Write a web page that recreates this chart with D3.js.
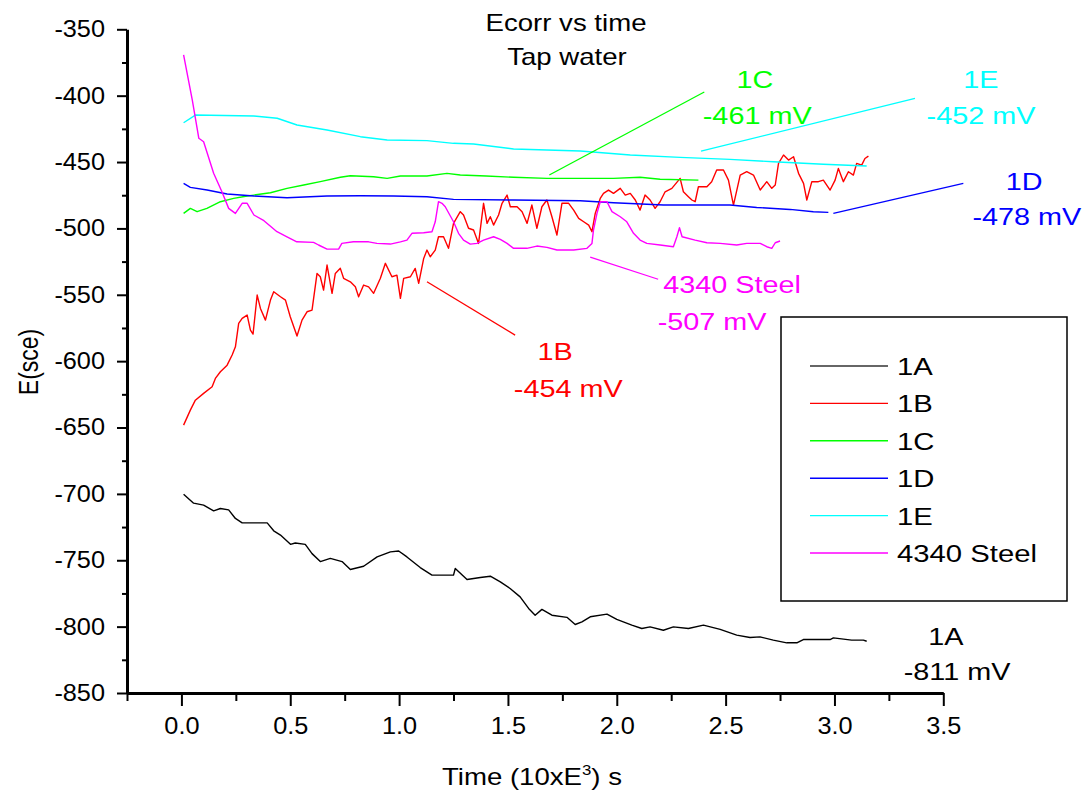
<!DOCTYPE html>
<html>
<head>
<meta charset="utf-8">
<script src="https://cdn.jsdelivr.net/npm/d3@7"></script>
<style>
  html, body { margin: 0; padding: 0; background: #fff; }
  svg { display: block; }
  text { font-family: "Liberation Sans", Arial, sans-serif; fill: #000; }
</style>
</head>
<body>
<svg id="chart" width="1091" height="799"></svg>
<script>
// Open-circuit potential (Ecorr) vs time in tap water, time in 10^3 s, E in mV vs SCE
const series1A = [[0.01,-700.2],[0.056,-707],[0.102,-708.5],[0.148,-712.8],[0.179,-711],[0.217,-712],[0.248,-718.5],[0.279,-721.8],[0.394,-721.8],[0.424,-727.8],[0.455,-731],[0.501,-738],[0.523,-737],[0.569,-738],[0.6,-745],[0.638,-751],[0.684,-748.6],[0.738,-751],[0.776,-757],[0.837,-754.5],[0.899,-747.5],[0.96,-743.7],[0.998,-743],[1.036,-747.5],[1.097,-755.5],[1.151,-761.2],[1.25,-761.2],[1.258,-756.2],[1.312,-764.5],[1.373,-763],[1.419,-762],[1.465,-766.3],[1.51,-771.3],[1.556,-777.6],[1.595,-786.3],[1.625,-791.4],[1.656,-787],[1.702,-791.4],[1.771,-793],[1.809,-798.4],[1.84,-796.4],[1.878,-792.6],[1.955,-790.6],[2.0,-794.6],[2.069,-798.9],[2.115,-801.4],[2.153,-800.2],[2.214,-802.7],[2.26,-800.2],[2.329,-801.4],[2.398,-798.9],[2.475,-802.1],[2.551,-806.4],[2.612,-808.2],[2.658,-807.7],[2.719,-810.2],[2.781,-812.2],[2.827,-812.2],[2.857,-809.7],[2.98,-809.7],[2.995,-808.5],[3.079,-810.2],[3.133,-810.2],[3.148,-811]];

const series1B = [[0.01,-648.2],[0.041,-636.9],[0.064,-629.4],[0.102,-624.3],[0.141,-619.3],[0.156,-613],[0.179,-608],[0.21,-603],[0.233,-595.4],[0.248,-589.2],[0.263,-571.6],[0.279,-567.8],[0.302,-565.3],[0.317,-576.6],[0.329,-579.6],[0.348,-550.2],[0.363,-560.3],[0.386,-569.1],[0.409,-554],[0.424,-547.7],[0.455,-551.5],[0.478,-554],[0.5,-566.6],[0.531,-581.1],[0.554,-569.1],[0.577,-562.8],[0.6,-561.5],[0.623,-533.9],[0.638,-536.4],[0.653,-546.5],[0.669,-527.6],[0.692,-548.9],[0.707,-533.9],[0.73,-530.1],[0.745,-537.6],[0.776,-540.2],[0.799,-544],[0.814,-551.5],[0.837,-542.7],[0.86,-544],[0.883,-548.9],[0.914,-537.6],[0.937,-526.3],[0.967,-536.4],[0.99,-535.2],[1.006,-552.7],[1.021,-537.6],[1.052,-536.4],[1.074,-530.1],[1.09,-541.4],[1.113,-522.6],[1.128,-516.3],[1.143,-521.4],[1.166,-516.3],[1.181,-506.3],[1.204,-506.3],[1.227,-515],[1.25,-496.2],[1.281,-487.4],[1.296,-489.9],[1.319,-499.9],[1.342,-501.2],[1.365,-511.3],[1.388,-481.1],[1.404,-496.2],[1.419,-491.2],[1.434,-497.5],[1.457,-489.9],[1.473,-481.1],[1.496,-474.9],[1.511,-483.7],[1.542,-483.7],[1.565,-487.4],[1.588,-496.2],[1.61,-482.4],[1.633,-499.9],[1.656,-483.7],[1.679,-478.6],[1.702,-491.2],[1.725,-505],[1.748,-481.1],[1.779,-481.1],[1.802,-486.2],[1.825,-492.4],[1.848,-495],[1.871,-497.5],[1.886,-502.5],[1.901,-488.7],[1.924,-477.4],[1.939,-473.6],[1.962,-471.1],[1.985,-473.6],[2.016,-469.8],[2.039,-474.9],[2.062,-473.6],[2.085,-478.6],[2.107,-486.2],[2.13,-474.9],[2.153,-478.6],[2.176,-484.9],[2.199,-479.9],[2.222,-472.4],[2.253,-469.8],[2.291,-462.3],[2.306,-472.4],[2.329,-476.1],[2.345,-478.6],[2.36,-479.9],[2.375,-468.6],[2.414,-468.6],[2.436,-464.8],[2.459,-456],[2.49,-456],[2.513,-463.6],[2.536,-482.4],[2.567,-459.8],[2.597,-457.3],[2.628,-459.8],[2.659,-471.1],[2.689,-464.8],[2.712,-469.8],[2.728,-467.3],[2.743,-451],[2.766,-444.7],[2.789,-448.5],[2.812,-446],[2.835,-458.5],[2.858,-466.1],[2.873,-478.6],[2.896,-464.8],[2.926,-464.8],[2.949,-463.6],[2.98,-471.1],[3.003,-463.6],[3.018,-454.8],[3.041,-464.8],[3.064,-457.3],[3.087,-459.8],[3.102,-451],[3.125,-452.3],[3.14,-447.3],[3.156,-445.5]];

const series1C = [[0.01,-488.7],[0.041,-484.9],[0.072,-487.4],[0.117,-484.9],[0.179,-479.9],[0.24,-477.4],[0.302,-475.6],[0.333,-474.9],[0.409,-473.1],[0.485,-469.8],[0.562,-467.3],[0.638,-464.8],[0.73,-461.5],[0.776,-460.3],[0.883,-461.1],[0.945,-462.3],[1.006,-460.5],[1.128,-460.5],[1.22,-458.5],[1.281,-459.8],[1.4,-460.5],[1.526,-461.5],[1.679,-462.3],[1.985,-462.3],[2.107,-461.5],[2.199,-463],[2.375,-463.6]];

const series1D = [[0.01,-466.1],[0.041,-469.1],[0.118,-471.1],[0.21,-474.1],[0.333,-475.6],[0.485,-476.9],[0.669,-475.6],[0.822,-475.4],[0.975,-475.6],[1.128,-476.1],[1.25,-478.1],[1.526,-478.6],[1.832,-479.2],[1.985,-480.7],[2.215,-482.4],[2.52,-482.4],[2.643,-484.2],[2.796,-485.7],[2.903,-487.4],[2.972,-487.9]];

const series1E = [[0.01,-420.4],[0.064,-414.6],[0.333,-415.3],[0.44,-417],[0.531,-422.1],[0.669,-425.9],[0.822,-430.9],[0.945,-433.4],[1.128,-433.9],[1.25,-435.9],[1.342,-436.4],[1.526,-440.2],[1.832,-441.7],[2.062,-444.7],[2.291,-446.5],[2.52,-448],[2.719,-449.8],[2.949,-451.7],[3.148,-453]];

const seriesSteel = [[0.01,-369.3],[0.05,-403.3],[0.08,-432.1],[0.102,-434.7],[0.148,-458.5],[0.186,-472.4],[0.217,-484.9],[0.248,-488.7],[0.279,-481.1],[0.302,-481.1],[0.333,-489.9],[0.379,-494.2],[0.439,-502.5],[0.485,-506.3],[0.53,-510.1],[0.607,-510.5],[0.63,-512.5],[0.669,-515.6],[0.722,-515.6],[0.737,-511.3],[0.79,-510.1],[0.86,-510.1],[0.898,-511.3],[0.96,-511.8],[1.006,-510.1],[1.036,-508.8],[1.059,-503.7],[1.113,-503.3],[1.151,-502.5],[1.166,-495],[1.181,-479.9],[1.197,-481.1],[1.212,-483.7],[1.25,-495],[1.273,-503.7],[1.296,-508.8],[1.327,-511.8],[1.358,-511.3],[1.388,-508.8],[1.434,-506.3],[1.465,-508.3],[1.496,-511.3],[1.526,-515],[1.587,-515],[1.633,-513.3],[1.679,-514.3],[1.725,-516.3],[1.802,-516.3],[1.863,-515],[1.886,-511.3],[1.893,-501.2],[1.909,-488.7],[1.924,-479.9],[1.955,-479.9],[1.978,-487.4],[2.016,-491.2],[2.046,-495],[2.077,-503.7],[2.107,-508.8],[2.138,-511.3],[2.199,-512.5],[2.26,-513.8],[2.276,-506.3],[2.288,-499.5],[2.30,-506.3],[2.36,-508.8],[2.414,-510.8],[2.475,-511.3],[2.551,-512.5],[2.597,-511.3],[2.659,-511.3],[2.689,-513.8],[2.712,-515],[2.728,-510.8],[2.75,-509.5]];

const seriesNames  = ["1A", "1B", "1C", "1D", "1E", "4340 Steel"];
const seriesColors = ["#000000", "#ff0000", "#00ff00", "#0000ff", "#00ffff", "#ff00ff"];
const seriesData   = [series1A, series1B, series1C, series1D, series1E, seriesSteel];

const xMajorTicks = [0, 0.5, 1.0, 1.5, 2.0, 2.5, 3.0, 3.5];
const xMinorTicks = [-0.25, 0.25, 0.75, 1.25, 1.75, 2.25, 2.75, 3.25];
const yMajorTicks = [-850, -800, -750, -700, -650, -600, -550, -500, -450, -400, -350];
const yMinorTicks = [-825, -775, -725, -675, -625, -575, -525, -475, -425, -375];

// Final-value callouts: [name, valueText, labelX, nameY, valueY, leader start [t,E], leader end [t,E]]
const calloutNames  = ["1A", "1B", "1C", "1D", "1E", "4340 Steel"];
const calloutValues = ["-811 mV", "-454 mV", "-461 mV", "-478 mV", "-452 mV", "-507 mV"];
const calloutNamePos  = [[3.512,-813.9],[1.717,-599.2],[2.635,-394.0],[3.871,-471.1],[3.673,-394.0],[2.530,-548.7]];
const calloutValuePos = [[3.563,-840.3],[1.777,-627.1],[2.645,-421.4],[3.884,-497.5],[3.673,-421.4],[2.438,-576.6]];
const leaderLines = [null, [[1.128,-540.2],[1.533,-580.4]], [[1.690,-459.8],[2.402,-397.2]], [[2.995,-488.7],[3.592,-466.1]], [[2.387,-441.8],[3.370,-402.0]], [[1.878,-521.6],[2.190,-538.3]]];

const W = 1091, H = 799;
const svg = d3.select("#chart");
svg.append("rect").attr("width", W).attr("height", H).attr("fill", "#fff");

const x = d3.scaleLinear().domain([-0.25, 3.5]).range([127, 943.3]);
const y = d3.scaleLinear().domain([-850, -350]).range([693, 29.3]);

// glyphs in this figure are drawn slightly wide
function widen(sel, sx) {
  sel.each(function () {
    const t = d3.select(this);
    const tx = +t.attr("x") || 0, ty = +t.attr("y") || 0;
    const dy = t.attr("dy");
    t.attr("x", 0).attr("y", 0)
     .attr("transform", `translate(${tx},${ty}) scale(${sx},1)`);
    if (dy) t.attr("dy", dy);
  });
}

// ----- axes -----
const axisColor = "#000";
const yAxisG = svg.append("g").attr("transform", `translate(${x(-0.25)},0)`);
yAxisG.call(d3.axisLeft(y).tickValues(yMinorTicks).tickSize(5).tickSizeOuter(0).tickFormat(""));
yAxisG.call(g => g.select(".domain").remove());
const yMajG = svg.append("g").attr("transform", `translate(${x(-0.25)},0)`);
yMajG.call(d3.axisLeft(y).tickValues(yMajorTicks).tickSize(10).tickSizeOuter(0).tickPadding(12).tickFormat(d => String(d)));

const xAxisG = svg.append("g").attr("transform", `translate(0,${y(-850)})`);
xAxisG.call(d3.axisBottom(x).tickValues(xMinorTicks).tickSize(8).tickSizeOuter(0).tickFormat(""));
xAxisG.call(g => g.select(".domain").remove());
const xMajG = svg.append("g").attr("transform", `translate(0,${y(-850)})`);
xMajG.call(d3.axisBottom(x).tickValues(xMajorTicks).tickSize(13).tickSizeOuter(0).tickPadding(12).tickFormat(d3.format(".1f")));

svg.selectAll(".domain").attr("stroke", axisColor).attr("stroke-width", 3);
svg.selectAll(".tick line").attr("stroke", axisColor).attr("stroke-width", 2);
svg.selectAll(".tick text").attr("font-size", 23).attr("font-family", "Liberation Sans, Arial, sans-serif").attr("fill", "#000");
widen(yMajG.selectAll(".tick text"), 1.1);
widen(xMajG.selectAll(".tick text"), 1.1);

// ----- series -----
const line = d3.line().x(d => x(d[0])).y(d => y(d[1]));
seriesData.forEach((data, i) => {
  svg.append("path")
    .datum(data)
    .attr("fill", "none")
    .attr("stroke", seriesColors[i])
    .attr("stroke-width", 1.4)
    .attr("stroke-linejoin", "round")
    .attr("d", line);
});

// ----- callouts -----
seriesNames.forEach((name, i) => {
  const col = seriesColors[i];
  if (leaderLines[i]) {
    svg.append("line")
      .attr("x1", x(leaderLines[i][0][0])).attr("y1", y(leaderLines[i][0][1]))
      .attr("x2", x(leaderLines[i][1][0])).attr("y2", y(leaderLines[i][1][1]))
      .attr("stroke", col).attr("stroke-width", 1.3);
  }
  const t1 = svg.append("text")
    .attr("x", x(calloutNamePos[i][0])).attr("y", y(calloutNamePos[i][1]))
    .attr("text-anchor", "middle").attr("font-size", 24).style("fill", col)
    .text(calloutNames[i]);
  const t2 = svg.append("text")
    .attr("x", x(calloutValuePos[i][0])).attr("y", y(calloutValuePos[i][1]))
    .attr("text-anchor", "middle").attr("font-size", 24).style("fill", col)
    .text(calloutValues[i]);
  widen(t1, 1.2);
  widen(t2, 1.2);
});

// ----- titles -----
const title1 = svg.append("text").attr("x", 566).attr("y", 31).attr("text-anchor", "middle")
  .attr("font-size", 23).text("Ecorr vs time");
const title2 = svg.append("text").attr("x", 567).attr("y", 65).attr("text-anchor", "middle")
  .attr("font-size", 23).text("Tap water");
widen(title1, 1.2); widen(title2, 1.2);

const xTitle = svg.append("text").attr("x", 532).attr("y", 785).attr("text-anchor", "middle")
  .attr("font-size", 23);
xTitle.append("tspan").text("Time (10xE");
xTitle.append("tspan").attr("font-size", 14).attr("dy", -10).text("3");
xTitle.append("tspan").attr("dy", 10).text(") s");
widen(xTitle, 1.2);

svg.append("text")
  .attr("transform", "translate(38,362) scale(1.2,1) rotate(-90)")
  .attr("text-anchor", "middle").attr("font-size", 23)
  .text("E(sce)");

// ----- legend -----
const legend = svg.append("g");
legend.append("rect")
  .attr("x", 781).attr("y", 317).attr("width", 286).attr("height", 284)
  .attr("fill", "#fff").attr("stroke", "#000").attr("stroke-width", 1.5);
seriesNames.forEach((name, i) => {
  const ry = 366 + i * 37.4;
  legend.append("line")
    .attr("x1", 810).attr("x2", 888).attr("y1", ry).attr("y2", ry)
    .attr("stroke", i === 0 ? "#333" : seriesColors[i]).attr("stroke-width", 1.4);
  const t = legend.append("text")
    .attr("x", 897).attr("y", ry + 9)
    .attr("font-size", 24).text(name);
  widen(t, 1.22);
});
</script>
</body>
</html>
